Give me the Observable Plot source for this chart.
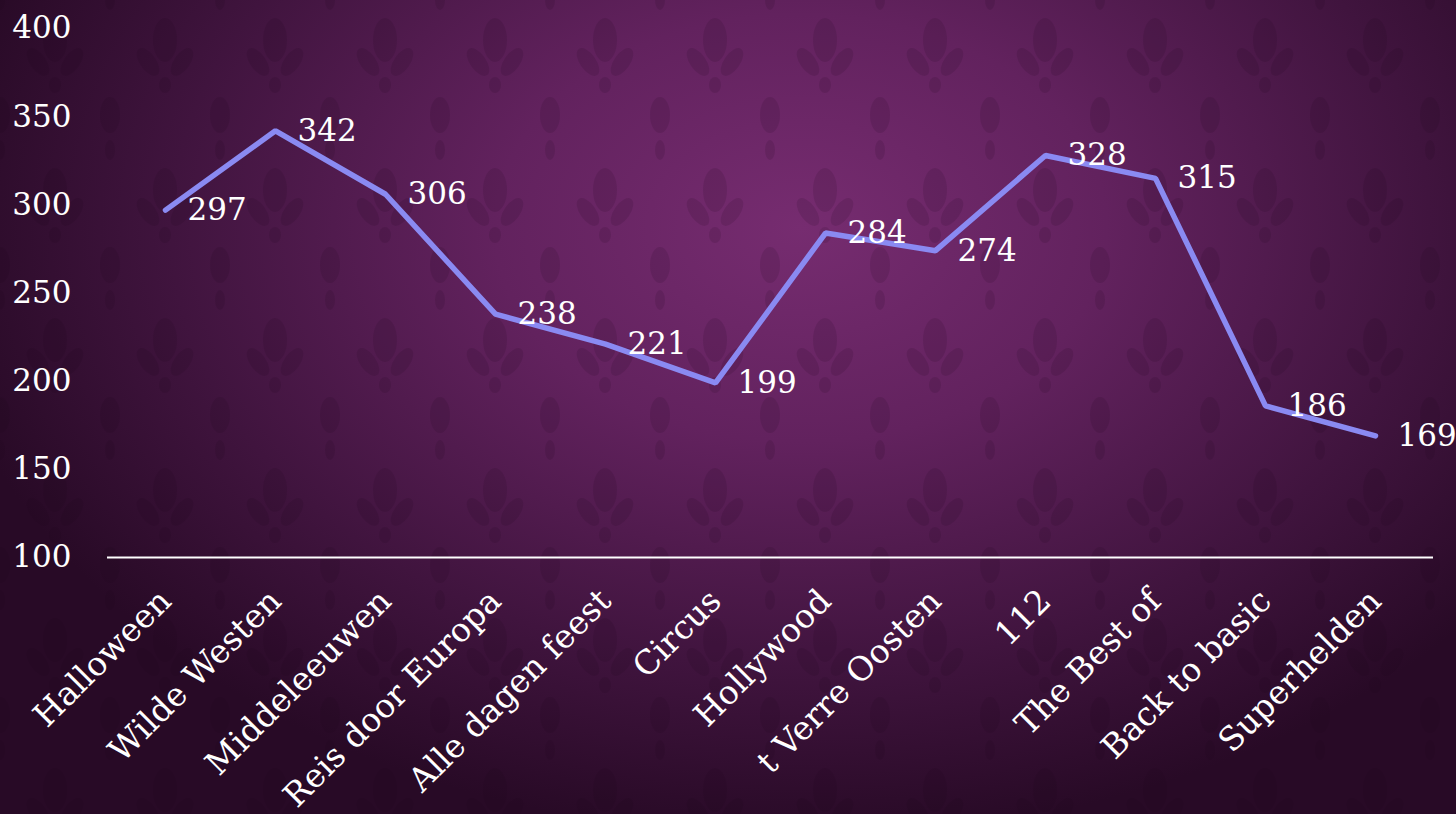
<!DOCTYPE html>
<html>
<head>
<meta charset="utf-8">
<script src="https://cdn.jsdelivr.net/npm/d3@7"></script>
<script src="https://cdn.jsdelivr.net/npm/@observablehq/plot@0.6"></script>
<style>
  html, body { margin: 0; padding: 0; width: 1456px; height: 814px; overflow: hidden; }
  body {
    background:
      radial-gradient(ellipse 60% 75% at 55% 28%, rgba(118,44,112,1) 0%, rgba(98,34,94,1) 35%, rgba(64,20,62,1) 72%, rgba(40,10,38,1) 100%);
    background-color: #3a1238;
    position: relative;
  }
  #pattern { position: absolute; left: 0; top: 0; width: 1456px; height: 814px; opacity: 0.12; }
  #chart { position: absolute; left: 0; top: 0; }
  #chart svg { background: transparent; font-family: "DejaVu Serif", serif; }
</style>
</head>
<body>
<svg id="pattern" xmlns="http://www.w3.org/2000/svg">
  <defs>
    <pattern id="damask" width="110" height="150" patternUnits="userSpaceOnUse">
      <g fill="#1a0418">
        <ellipse cx="55" cy="40" rx="12" ry="22"/>
        <ellipse cx="38" cy="62" rx="8" ry="16" transform="rotate(-35 38 62)"/>
        <ellipse cx="72" cy="62" rx="8" ry="16" transform="rotate(35 72 62)"/>
        <ellipse cx="55" cy="85" rx="6" ry="8"/>
        <ellipse cx="0" cy="115" rx="10" ry="18"/>
        <ellipse cx="110" cy="115" rx="10" ry="18"/>
        <ellipse cx="0" cy="0" rx="5" ry="10"/>
        <ellipse cx="110" cy="0" rx="5" ry="10"/>
        <ellipse cx="110" cy="150" rx="5" ry="10"/>
        <ellipse cx="0" cy="150" rx="5" ry="10"/>
      </g>
    </pattern>
  </defs>
  <rect width="1456" height="814" fill="url(#damask)"/>
</svg>
<div id="chart"></div>
<script>
const categories = ["Halloween", "Wilde Westen", "Middeleeuwen", "Reis door Europa", "Alle dagen feest", "Circus", "Hollywood", "t Verre Oosten", "112", "The Best of", "Back to basic", "Superhelden"];
const values = [297, 342, 306, 238, 221, 199, 284, 274, 328, 315, 186, 169];
const yTicks = [100, 150, 200, 250, 300, 350, 400];

const data = categories.map((c, i) => ({category: c, value: values[i]}));

const chart = Plot.plot({
  width: 1456,
  height: 814,
  marginTop: 28,
  marginBottom: 257,
  marginLeft: 107,
  marginRight: 23,
  style: {background: "transparent", color: "white", fontFamily: "DejaVu Serif, serif"},
  x: {type: "point", domain: categories, padding: 0.5, label: null},
  y: {domain: [100, 400], label: null},
  marks: [
    Plot.axisY({ticks: yTicks, tickSize: 0, tickPadding: 36, fontSize: 31, label: null, fill: "white"}),
    Plot.axisX({tickSize: 0, tickPadding: 38, tickRotate: -45, fontSize: 33, label: null, fill: "white"}),
    Plot.ruleY([100], {stroke: "white", strokeWidth: 2}),
    Plot.line(data, {x: "category", y: "value", stroke: "#8a8af2", strokeWidth: 5.5, strokeLinecap: "round", strokeLinejoin: "miter"}),
    Plot.text(data, {x: "category", y: "value", text: d => String(d.value), dx: 22, textAnchor: "start", fill: "white", fontSize: 31})
  ]
});
document.getElementById("chart").appendChild(chart);
</script>
</body>
</html>
